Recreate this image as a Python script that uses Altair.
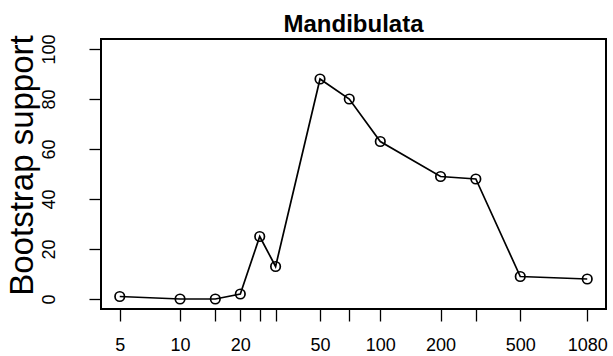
import altair as alt
import pandas as pd

sizes = [5, 10, 15, 20, 25, 30, 50, 70, 100, 200, 300, 500, 1080]
support = [1, 0, 0, 2, 25, 13, 88, 80, 63, 49, 48, 9, 8]
labeled_ticks = [5, 10, 20, 50, 100, 200, 500, 1080]
y_ticks = [0, 20, 40, 60, 80, 100]

df = pd.DataFrame({"size": sizes, "support": support})

FONT = "Liberation Sans"
lab_list = "[" + ",".join(str(v) for v in labeled_ticks) + "]"

base = alt.Chart(df)

frame = base.mark_rect(fill=None, stroke="black", strokeWidth=1.3).encode(
    x=alt.value(0), x2=alt.value("width"), y=alt.value(0), y2=alt.value("height")
)

line = base.mark_line(
    color="black", strokeWidth=1.7,
    point=alt.OverlayMarkDef(filled=False, stroke="black", strokeWidth=1.7, size=90, shape="circle"),
).encode(
    x=alt.X("size:Q",
            scale=alt.Scale(type="log", domain=[4.03, 1340], nice=False, zero=False),
            axis=alt.Axis(values=sizes, title=None, grid=False, domain=False,
                          tickSize=12, tickWidth=1.3, tickColor="black",
                          labelFont=FONT, labelFontSize=18, labelColor="black",
                          labelBaseline="alphabetic", labelPadding=29, labelAngle=0,
                          labelOverlap=False, labelFlush=False,
                          labelExpr="indexof(" + lab_list + ", datum.value) >= 0 ? toString(datum.value) : ''")),
    y=alt.Y("support:Q",
            scale=alt.Scale(domain=[-4, 104], nice=False, zero=False),
            axis=alt.Axis(values=y_ticks, title="Bootstrap support", grid=False, domain=False,
                          tickSize=12, tickWidth=1.3, tickColor="black",
                          labelFont=FONT, labelFontSize=18, labelColor="black",
                          labelAngle=270, labelAlign="center", labelBaseline="alphabetic",
                          labelPadding=35, labelOverlap=False, labelFlush=False,
                          titleFont=FONT, titleFontSize=33, titleFontWeight="normal",
                          titleColor="black", titleAngle=270, titleAlign="center",
                          titleBaseline="alphabetic", titleX=-69, titleY=126)),
)

chart = alt.layer(line, frame).properties(
    width=505, height=270,
    title=alt.TitleParams("Mandibulata", font=FONT, fontSize=24, fontWeight="bold",
                          color="black", anchor="middle", baseline="alphabetic",
                          offset=7, dy=29),
    autosize=alt.AutoSizeParams(type="none"),
    padding={"left": 101, "top": 39, "right": 7, "bottom": 47},
).configure(background="white").configure_view(stroke=None)

chart.save("out.html", embed_options={"renderer": "svg", "actions": False})
